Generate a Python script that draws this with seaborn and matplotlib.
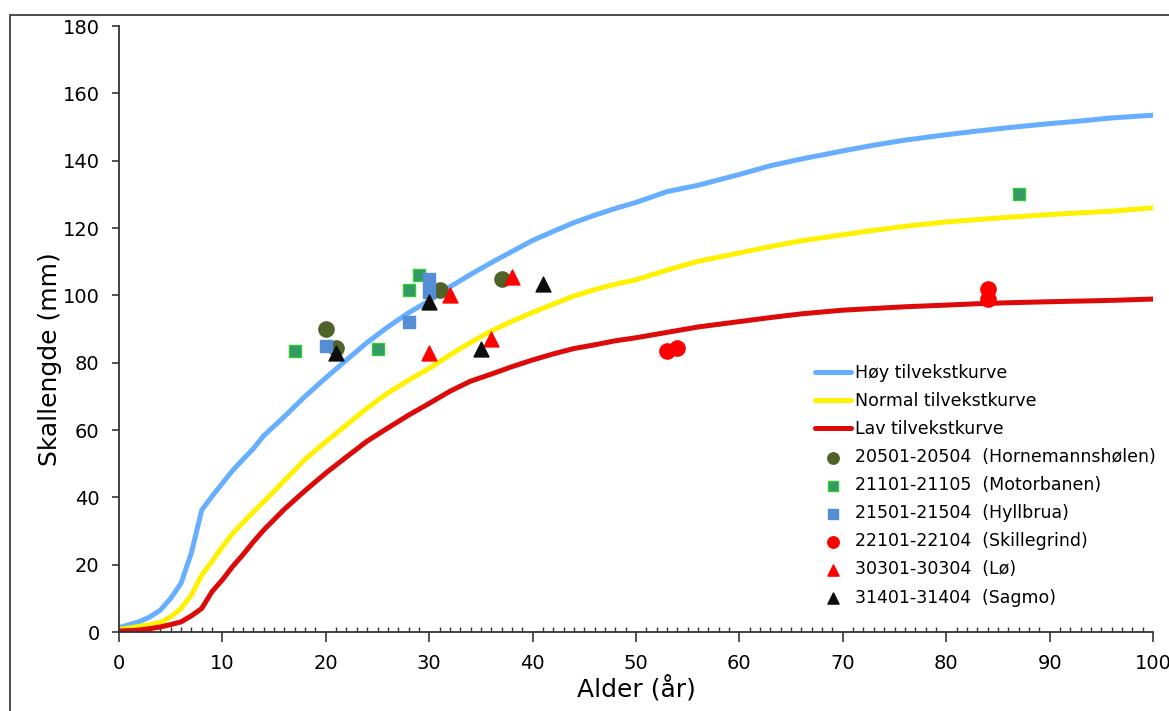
import numpy as np
import pandas as pd
import matplotlib
matplotlib.use("Agg")
import matplotlib.pyplot as plt
from matplotlib.ticker import MultipleLocator
import seaborn as sns

# growth curves (mm shell length by age)
ages = [0, 1, 2, 3, 4, 5, 6, 7, 8, 9, 10, 11, 12, 13, 14, 16, 18, 20, 22, 24, 26, 28, 30,
        32, 34, 36, 38, 40, 42, 44, 46, 48, 50, 53, 56, 60, 63, 66, 70, 73, 76, 80, 83, 86,
        90, 93, 96, 100]
high_curve = [1.3, 2.2, 3.1, 4.5, 6.5, 10.0, 14.5, 23.5, 36.2, 40.3, 44.2, 48.0, 51.3, 54.5, 58.3,
              64.0, 70.0, 75.5, 80.8, 86.0, 90.6, 94.8, 98.4,
              102.5, 106.2, 109.7, 113.0, 116.3, 119.0, 121.6, 123.8, 125.8, 127.6,
              130.8, 132.7, 135.9, 138.5, 140.5, 142.9, 144.6, 146.1, 147.7, 148.8, 149.8,
              151.0, 151.8, 152.7, 153.5]
normal_curve = [0.8, 1.2, 1.7, 2.2, 2.8, 4.5, 7.0, 11.0, 16.9, 21.0, 25.3, 29.3, 32.5, 35.7, 38.7,
                45.0, 51.3, 56.5, 61.5, 66.5, 71.0, 74.8, 78.3,
                82.3, 86.0, 89.4, 92.3, 94.9, 97.4, 99.8, 101.7, 103.3, 104.6,
                107.5, 110.1, 112.6, 114.5, 116.2, 118.0, 119.3, 120.5, 121.8, 122.5, 123.2,
                124.0, 124.5, 125.0, 126.0]
low_curve = [0.3, 0.4, 0.6, 1.0, 1.5, 2.2, 3.0, 4.8, 7.0, 12.0, 15.5, 19.5, 23.0, 26.8, 30.3,
             36.5, 42.0, 47.2, 52.0, 56.7, 60.6, 64.4, 67.9,
             71.5, 74.5, 76.6, 78.8, 80.8, 82.6, 84.2, 85.3, 86.5, 87.4,
             89.0, 90.6, 92.2, 93.4, 94.5, 95.6, 96.1, 96.6, 97.1, 97.5, 97.8,
             98.1, 98.3, 98.5, 98.9]
curve_names = ["Høy tilvekstkurve", "Normal tilvekstkurve", "Lav tilvekstkurve"]
curve_colors = ["#66AEFF", "#FFF200", "#DD0A0A"]

# measured shells per site
site_names = ["20501-20504  (Hornemannshølen)", "21101-21105  (Motorbanen)",
              "21501-21504  (Hyllbrua)", "22101-22104  (Skillegrind)",
              "30301-30304  (Lø)", "31401-31404  (Sagmo)"]
horn_age = [20, 21, 31, 37]
horn_len = [90, 84.5, 101.5, 105]
motor_age = [17, 25, 28, 29, 87]
motor_len = [83.5, 84, 101.5, 106, 130]
hyll_age = [20, 28, 30, 30]
hyll_len = [85, 92, 105, 101]
skille_age = [53, 54, 84, 84]
skille_len = [83.5, 84.5, 102, 98.8]
lo_age = [30, 32, 36, 38]
lo_len = [83, 100, 87, 105.5]
sagmo_age = [21, 30, 35, 41]
sagmo_len = [83, 98, 84, 103.5]

sns.set_theme(style="ticks")
plt.rcParams["font.family"] = ["DejaVu Sans"]
plt.rcParams["text.color"] = "black"
plt.rcParams["axes.labelcolor"] = "black"

curves = pd.DataFrame({"age": ages * 3,
                       "length": high_curve + normal_curve + low_curve,
                       "curve": np.repeat(curve_names, len(ages))})

fig = plt.figure(figsize=(11.69, 7.11), dpi=100)
ax = fig.add_axes([119 / 1169, 1 - 632 / 711, 1034 / 1169, 606 / 711])

# curves first so the legend order matches
for name, col in zip(curve_names, curve_colors):
    sns.lineplot(data=curves[curves["curve"] == name], x="age", y="length", color=col,
                 linewidth=3.6, label=name, ax=ax, zorder=2)

# scatter points, one call per site
site_data = [(horn_age, horn_len, "o", "#4F6228", "#4F6228", 120),
             (motor_age, motor_len, "s", "#339966", "#33CC33", 80),
             (hyll_age, hyll_len, "s", "#558ED5", "#558ED5", 80),
             (skille_age, skille_len, "o", "#FF0000", "#FF0000", 120),
             (lo_age, lo_len, "^", "#FF0000", "#FF0000", 115),
             (sagmo_age, sagmo_len, "^", "#0D0D0D", "#0D0D0D", 115)]
for name, (xs, ys, mk, fc, ec, sz) in zip(site_names, site_data):
    sns.scatterplot(x=xs, y=ys, marker=mk, color=fc, edgecolor=ec, linewidth=1,
                    s=sz, label=name, ax=ax, zorder=3)

ax.set_xlim(0, 100)
ax.set_ylim(0, 180)
ax.xaxis.set_major_locator(MultipleLocator(10))
ax.xaxis.set_minor_locator(MultipleLocator(1))
ax.yaxis.set_major_locator(MultipleLocator(20))
ax.tick_params(axis="x", which="major", direction="out", length=7, width=1.2,
               color="#333333", labelcolor="black", labelsize=14, pad=9)
ax.tick_params(axis="x", which="minor", direction="in", length=3.5, width=1,
               color="#333333")
ax.tick_params(axis="y", which="major", direction="out", length=5, width=1.2,
               color="#333333", labelcolor="black", labelsize=14, pad=9)
ax.grid(False)
sns.despine(ax=ax)
for side in ["left", "bottom"]:
    ax.spines[side].set_color("#333333")
    ax.spines[side].set_linewidth(1.3)

ax.set_xlabel("Alder (år)", fontsize=18)
ax.set_ylabel("Skallengde (mm)", fontsize=18)
ax.xaxis.set_label_coords(0.5, -0.072)
ax.yaxis.set_label_coords(-0.055, 0.45)

leg = ax.legend(loc="upper left", bbox_to_anchor=(815 / 1169, 1 - 364 / 711),
                bbox_transform=fig.transFigure, frameon=False, fontsize=12.5,
                handlelength=2.1, handletextpad=0.2, labelspacing=0.58,
                markerscale=0.75, borderpad=0, borderaxespad=0)
for txt in leg.get_texts():
    txt.set_color("black")

# outer chart-area border from the spreadsheet export
border = plt.Rectangle((10 / 1169, -0.05), 1.1, 1 - 15 / 711 + 0.05, transform=fig.transFigure,
                       fill=False, edgecolor="#404040", linewidth=1.3, clip_on=False)
fig.add_artist(border)

fig.savefig("out.png", dpi=100)
